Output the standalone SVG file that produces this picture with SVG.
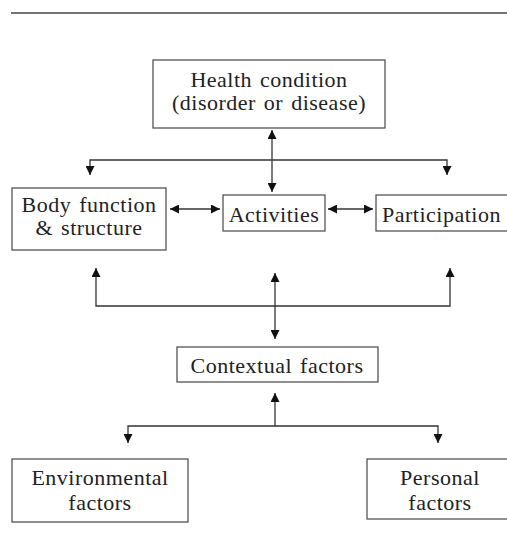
<svg xmlns="http://www.w3.org/2000/svg" width="507" height="539" viewBox="0 0 507 539">
<style>
.box{fill:#fff;stroke:#555;stroke-width:1.3}
.t{font-family:"Liberation Serif","DejaVu Serif",serif;font-size:22px;fill:#222;word-spacing:2px;letter-spacing:0.5px}
.c{text-anchor:middle}
.ln{fill:none;stroke:#333;stroke-width:1.3}
</style>
<defs>
<marker id="ah" viewBox="0 0 10 10" refX="10" refY="5" markerUnits="userSpaceOnUse" markerWidth="9" markerHeight="9" orient="auto-start-reverse">
<path d="M0,0 L10,5 L0,10 z" fill="#111"/>
</marker>
</defs>
<line x1="11" y1="13" x2="507" y2="13" stroke="#444" stroke-width="1.3"/>
<g id="health">
<rect class="box" x="153" y="60" width="232" height="68"/>
<text class="t c" x="269" y="87">Health condition</text>
<text class="t c" x="269" y="110">(disorder or disease)</text>
</g>
<g id="body">
<rect class="box" x="12" y="188" width="154" height="62"/>
<text class="t c" x="89" y="212">Body function</text>
<text class="t c" x="89" y="235">&amp; structure</text>
</g>
<g id="activities">
<rect class="box" x="223" y="195" width="102" height="36"/>
<text class="t c" x="274" y="222">Activities</text>
</g>
<g id="participation">
<rect class="box" x="376" y="195" width="140" height="36"/>
<text class="t" x="382" y="222">Participation</text>
</g>
<g id="contextual">
<rect class="box" x="177" y="347" width="201" height="35"/>
<text class="t c" x="277" y="373">Contextual factors</text>
</g>
<g id="environmental">
<rect class="box" x="12" y="459" width="176" height="63"/>
<text class="t c" x="100" y="485">Environmental</text>
<text class="t c" x="100" y="510">factors</text>
</g>
<g id="personal">
<rect class="box" x="367" y="459" width="150" height="60"/>
<text class="t c" x="440" y="485">Personal</text>
<text class="t c" x="440" y="510">factors</text>
</g>
<g id="connectors">
<line class="ln" x1="272" y1="130" x2="272" y2="192" marker-start="url(#ah)" marker-end="url(#ah)"/>
<path class="ln" d="M90,175 V160 H447 V175" marker-start="url(#ah)" marker-end="url(#ah)"/>
<line class="ln" x1="170" y1="209" x2="220" y2="209" marker-start="url(#ah)" marker-end="url(#ah)"/>
<line class="ln" x1="328" y1="209" x2="373" y2="209" marker-start="url(#ah)" marker-end="url(#ah)"/>
<path class="ln" d="M96,268 V306 H450 V268" marker-start="url(#ah)" marker-end="url(#ah)"/>
<line class="ln" x1="275" y1="273" x2="275" y2="339" marker-start="url(#ah)" marker-end="url(#ah)"/>
<line class="ln" x1="275" y1="393" x2="275" y2="426" marker-start="url(#ah)"/>
<path class="ln" d="M128,443 V426 H438 V443" marker-start="url(#ah)" marker-end="url(#ah)"/>
</g>
</svg>
